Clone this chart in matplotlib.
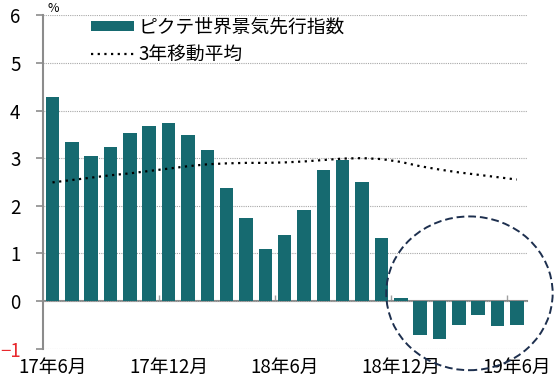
import numpy as np
import matplotlib
matplotlib.use("Agg")
import matplotlib.pyplot as plt
from matplotlib.patches import Ellipse

plt.rcParams['font.family'] = ['Noto Sans CJK JP', 'DejaVu Sans']

# 2017年6月 - 2019年6月 (monthly)
months = ["17年6月", "", "", "", "", "", "17年12月", "", "", "", "", "", "18年6月",
          "", "", "", "", "", "18年12月", "", "", "", "", "", "19年6月"]
index_vals = [4.29, 3.34, 3.05, 3.23, 3.52, 3.68, 3.73, 3.49, 3.18, 2.37, 1.75, 1.10, 1.39,
              1.92, 2.76, 2.97, 2.50, 1.33, 0.07, -0.71, -0.79, -0.50, -0.29, -0.53, -0.50]
ma3y = [2.49, 2.54, 2.59, 2.64, 2.68, 2.73, 2.78, 2.83, 2.87, 2.89, 2.90, 2.90, 2.91,
        2.93, 2.96, 2.99, 3.00, 2.98, 2.92, 2.83, 2.76, 2.70, 2.65, 2.60, 2.55]
yticks = [-1, 0, 1, 2, 3, 4, 5, 6]

teal = "#166a70"
gray = "#8c8c8c"

x = np.arange(len(index_vals))
fig = plt.figure(figsize=(5.56, 3.83), dpi=100, facecolor='white')
ax = fig.add_axes([0.077, 0.090, 0.870, 0.870])

bars = ax.bar(x, index_vals, width=0.7, color=teal, label="ピクテ世界景気先行指数", zorder=2)
line, = ax.plot(x, ma3y, color="black", linestyle=(0, (1, 2)), linewidth=1.6,
                label="3年移動平均", zorder=3)

ax.set_xlim(-0.5, len(x) - 0.5)
ax.set_ylim(yticks[0], yticks[-1])
ax.set_yticks(yticks)
ax.set_yticklabels([str(v).replace("-", "\u2212") for v in yticks])
ax.get_yticklabels()[0].set_color("#e8292e")
ax.tick_params(axis='y', length=5, width=1.2, color=gray, pad=11, labelsize=13.5)
ax.set_xticks(x)
ax.set_xticklabels(months)
ax.tick_params(axis='x', length=0, pad=6, labelsize=13.5)

ax.grid(axis='y', color="#a8a8a8", linestyle=(0, (1, 1)), linewidth=0.8)
ax.set_axisbelow(True)
for s in ['top', 'right', 'bottom']:
    ax.spines[s].set_visible(False)
ax.spines['left'].set_color(gray)
ax.spines['left'].set_linewidth(1.5)

# zero line with small tick marks between half-years
zero_frac = (0 - yticks[0]) / (yticks[-1] - yticks[0])
zax = ax.secondary_xaxis(zero_frac)
zax.spines['bottom'].set_color(gray)
zax.spines['bottom'].set_linewidth(1.5)
zax.set_xticks([])
zax.set_xticks([5.5, 11.5, 17.5, 23.5], minor=True)
zax.tick_params(which='minor', direction='in', length=4, width=1, color="#a0a0a0")
zax.tick_params(which='both', labelbottom=False)

ax.text(0.01, 1.0, "%", transform=ax.transAxes, fontsize=9, ha='left', va='bottom')

ax.legend([bars, line], ["ピクテ世界景気先行指数", "3年移動平均"],
          loc='upper left', bbox_to_anchor=(0.1, 0.997), frameon=False, fontsize=13.5,
          handlelength=2.3, handleheight=0.45, handletextpad=0.2, labelspacing=0.35,
          borderpad=0, borderaxespad=0)

# circle around the recent negative readings
ell = Ellipse((21.55, 0.16), width=8.6, height=3.23, fill=False, edgecolor="#1d2f4e",
              linestyle=(0, (4, 2)), linewidth=1.4, clip_on=False, zorder=5)
ax.add_patch(ell)

fig.savefig("out.png", dpi=100, facecolor='white')
